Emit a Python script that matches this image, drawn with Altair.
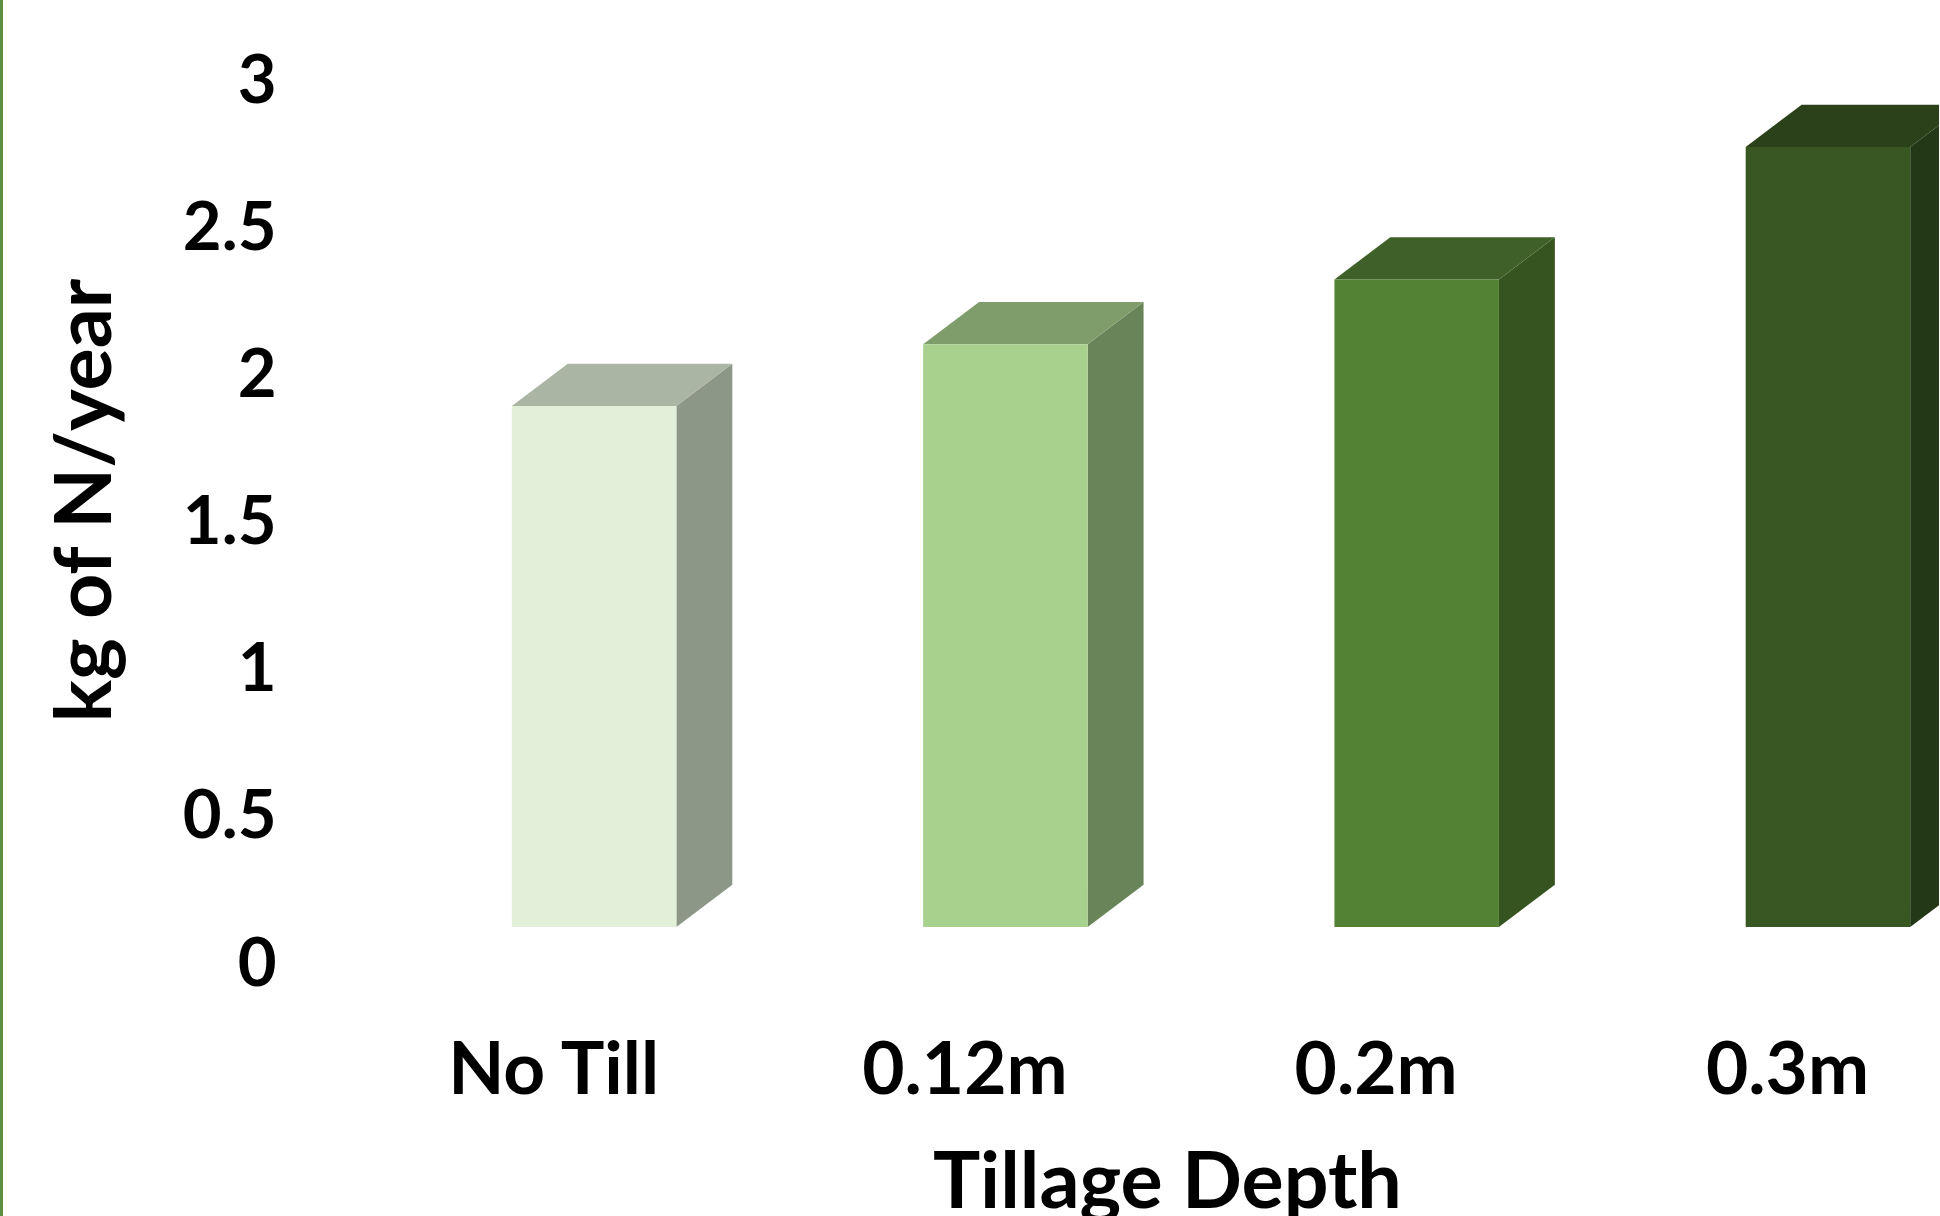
import json
import altair as alt
import pandas as pd

# Annual nitrogen loss by tillage depth
categories = ["No Till", "0.12m", "0.2m", "0.3m"]
values = [1.77, 1.98, 2.2, 2.65]

# Face colours of each 3D column: front, top, right side
front_colors = ["#E2EFD9", "#A9D18E", "#548235", "#385723"]
top_colors = ["#AAB5A3", "#7F9C6B", "#3F6129", "#2A4119"]
side_colors = ["#8C9787", "#6A8459", "#36541F", "#233817"]

# Column geometry in data units (half width, depth shift along x and y)
HALF = 0.2
DX = 0.136
DY = 0.1437

W, H = 1641, 883
PAD = {"left": 298, "top": 44, "right": 0, "bottom": 1216 - 44 - H}
FONT = "Lato"

front_rows, side_rows, top_rows = [], [], []
for i, (cat, v) in enumerate(zip(categories, values)):
    front_rows.append({"cat": cat, "x": i - HALF, "x2": i + HALF,
                       "y": v, "y2": 0.0, "c": front_colors[i]})
    side_rows += [
        {"cat": cat, "x": i + HALF, "y": v, "y2": 0.0, "c": side_colors[i]},
        {"cat": cat, "x": i + HALF + DX, "y": v + DY, "y2": DY, "c": side_colors[i]},
    ]
    top_rows += [
        {"cat": cat, "y": v, "x": i - HALF, "x2": i + HALF, "c": top_colors[i]},
        {"cat": cat, "y": v + DY, "x": i - HALF + DX, "x2": i + HALF + DX, "c": top_colors[i]},
    ]

front_df = pd.DataFrame(front_rows)
side_df = pd.DataFrame(side_rows)
top_df = pd.DataFrame(top_rows)

x_scale = alt.Scale(domain=[-0.72, 3.27], nice=False, zero=False)
y_scale = alt.Scale(domain=[0, 3], nice=False, zero=True)
color = alt.Color("c:N", scale=None, legend=None)

x_axis = alt.Axis(
    values=[0, 1, 2, 3],
    labelExpr=f"{json.dumps(categories)}[datum.value]",
    title="Tillage Depth",
    domain=False, ticks=False, tickSize=0, grid=False,
    labelFont=FONT, labelFontWeight="bold", labelFontSize=73, labelColor="#000000",
    labelBaseline="alphabetic", labelPadding=166, labelOffset=-41,
    labelLimit=0, labelOverlap=False,
    titleFont=FONT, titleFontWeight="bold", titleFontSize=79, titleColor="#000000",
    titleBaseline="alphabetic", titleAlign="center", titleX=869, titleY=280,
    titleLimit=0,
)
y_axis = alt.Axis(
    values=[0, 0.5, 1, 1.5, 2, 2.5, 3],
    format="~g",
    title="kg of N/year",
    domain=False, ticks=False, tickSize=0, grid=False,
    labelFont=FONT, labelFontWeight="bold", labelFontSize=67, labelColor="#000000",
    labelPadding=22, labelOffset=38, labelLimit=0, labelOverlap=False,
    titleFont=FONT, titleFontWeight="bold", titleFontSize=79, titleColor="#000000",
    titleBaseline="alphabetic", titleAlign="center", titleAngle=-90,
    titleX=-188, titleY=456, titleLimit=0,
)

side = alt.Chart(side_df).mark_area(orient="vertical", clip=True).encode(
    x=alt.X("x:Q", scale=x_scale, axis=x_axis),
    y=alt.Y("y:Q", scale=y_scale, axis=y_axis),
    y2="y2:Q",
    detail="cat:N",
    color=color,
)

top = alt.Chart(top_df).mark_area(orient="horizontal", clip=True).encode(
    y=alt.Y("y:Q", scale=y_scale, axis=y_axis),
    x=alt.X("x:Q", scale=x_scale, axis=x_axis),
    x2="x2:Q",
    detail="cat:N",
    color=color,
)

front = alt.Chart(front_df).mark_rect(clip=True).encode(
    x=alt.X("x:Q", scale=x_scale, axis=x_axis),
    x2="x2:Q",
    y=alt.Y("y:Q", scale=y_scale, axis=y_axis),
    y2="y2:Q",
    color=color,
)

# Green border line along the left edge of the slide
edge = alt.Chart(pd.DataFrame({"k": [0]})).mark_rule(
    color="#5E8F3E", strokeWidth=3
).encode(
    x=alt.value(-PAD["left"] + 1.5),
    y=alt.value(-PAD["top"]),
    y2=alt.value(H + PAD["bottom"]),
)

chart = alt.layer(side, top, front, edge).properties(
    width=W, height=H,
    padding=PAD,
    autosize=alt.AutoSizeParams(type="none"),
    background="#FFFFFF",
).configure_view(stroke=None)

chart.save("out.html", embed_options={"renderer": "svg", "actions": False})
